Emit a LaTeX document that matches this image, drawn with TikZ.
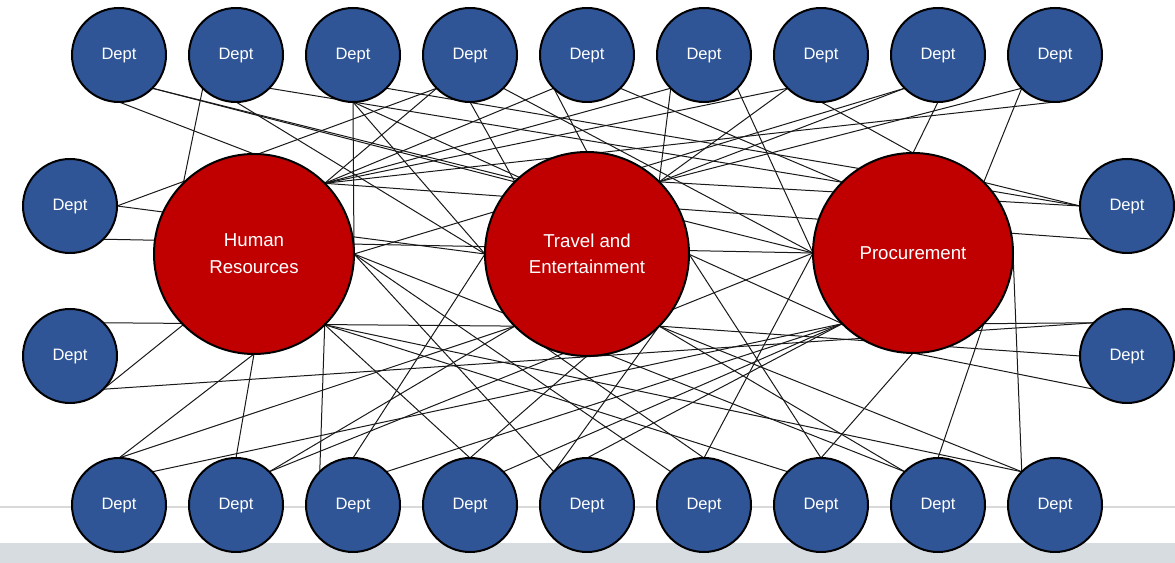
\documentclass[tikz,border=0pt]{standalone}
\usepackage{fontspec}
\setmainfont{Liberation Sans}
\usetikzlibrary{positioning,backgrounds}

\definecolor{deptblue}{HTML}{2F5597}
\definecolor{hubred}{HTML}{C00000}
\definecolor{footgray}{HTML}{D6DCE0}
\definecolor{rulegray}{HTML}{D9D9D9}

\tikzset{
  dept/.style={circle, draw=black, line width=1.5pt, fill=deptblue, text=white,
    minimum size=70.5pt, inner sep=0pt, outer sep=0pt,
    text height=0.72em, text depth=0pt,
    font=\fontsize{12.4}{14}\selectfont},
  hub/.style={circle, draw=black, line width=1.5pt, fill=hubred, text=white,
    minimum size=150pt, inner sep=0pt, outer sep=0pt, align=center,
    font=\fontsize{14}{20}\selectfont},
  link/.style={draw=black!90, line width=0.75pt}
}

\begin{document}
\begin{tikzpicture}[x=0.75pt,y=0.75pt]
\useasboundingbox (0,0) rectangle (1175,563);

% footer
\fill[footgray] (0,0) rectangle (1175,20);
\draw[rulegray, line width=1.5pt] (0,56) -- (1175,56);

% top row
\node[dept] (T1) at (119,508) {Dept};
\node[dept] (T2) [right=17.25pt of T1] {Dept};
\node[dept] (T3) [right=17.25pt of T2] {Dept};
\node[dept] (T4) [right=17.25pt of T3] {Dept};
\node[dept] (T5) [right=17.25pt of T4] {Dept};
\node[dept] (T6) [right=17.25pt of T5] {Dept};
\node[dept] (T7) [right=17.25pt of T6] {Dept};
\node[dept] (T8) [right=17.25pt of T7] {Dept};
\node[dept] (T9) [right=17.25pt of T8] {Dept};

% bottom row
\node[dept] (B1) at (119,58) {Dept};
\node[dept] (B2) [right=17.25pt of B1] {Dept};
\node[dept] (B3) [right=17.25pt of B2] {Dept};
\node[dept] (B4) [right=17.25pt of B3] {Dept};
\node[dept] (B5) [right=17.25pt of B4] {Dept};
\node[dept] (B6) [right=17.25pt of B5] {Dept};
\node[dept] (B7) [right=17.25pt of B6] {Dept};
\node[dept] (B8) [right=17.25pt of B7] {Dept};
\node[dept] (B9) [right=17.25pt of B8] {Dept};

% sides
\node[dept] (L1) at (70,357) {Dept};
\node[dept] (L2) [below=42pt of L1] {Dept};
\node[dept] (R1) at (1127,357) {Dept};
\node[dept] (R2) [below=42pt of R1] {Dept};

% hubs
\node[hub] (HR) at (254,309) {Human\\Resources};
\node[hub, minimum size=153pt] (TE) at (587,309) {Travel and\\Entertainment};
\node[hub] (PR) at (913,310) {Procurement};

\begin{scope}[on background layer]
% top row links
\draw[link] (T1.south) -- (HR.north);
\draw[link] (T1.south east) -- (TE.north west);
\draw[link] (T1.south east) -- (PR.west);
\draw[link] (T2.south west) -- (HR.north west);
\draw[link] (T2.south) -- (TE.west);
\draw[link] (T2.south east) -- (PR.north west);
\draw[link] (T3.south) -- (HR.east);
\draw[link] (T3.south) -- (TE.west);
\draw[link] (T3.south) -- (PR.south west);
\draw[link] (T3.south east) -- (R1.west);
\draw[link] (T4.south) -- (TE.north west);
\draw[link] (T4.south west) -- (HR.north east);
\draw[link] (T4.south east) -- (PR.west);
\draw[link] (T5.south west) -- (TE.north);
\draw[link] (T5.south west) -- (HR.north east);
\draw[link] (T5.south east) -- (PR.north west);
\draw[link] (T6.south west) -- (TE.north east);
\draw[link] (T6.south west) -- (HR.north east);
\draw[link] (T6.south east) -- (PR.west);
\draw[link] (T7.south) -- (PR.north);
\draw[link] (T7.south west) -- (HR.north east);
\draw[link] (T7.south west) -- (TE.north east);
\draw[link] (T8.south) -- (PR.north);
\draw[link] (T8.south west) -- (TE.north east);
\draw[link] (T8.south west) -- (HR.east);
\draw[link] (T9.south west) -- (PR.north east);
\draw[link] (T9.south west) -- (TE.north east);
\draw[link] (T9.south) -- (HR.north east);
% side links
\draw[link] (L1.east) -- (T4.south west);
\draw[link] (L1.east) -- (TE.west);
\draw[link] (L1.south east) -- (PR.west);
\draw[link] (L2.north east) -- (TE.south west);
\draw[link] (L2.south east) -- (HR.south west);
\draw[link] (L2.south east) -- (R2.north west);
\draw[link] (R1.west) -- (PR.north east);
\draw[link] (R1.west) -- (TE.north east);
\draw[link] (R1.south west) -- (HR.north east);
\draw[link] (R2.north west) -- (PR.south east);
\draw[link] (R2.west) -- (TE.south east);
\draw[link] (R2.south west) -- (PR.south);
% bottom row links
\draw[link] (B1.north) -- (HR.south);
\draw[link] (B1.north) -- (TE.south west);
\draw[link] (B1.north east) -- (PR.south west);
\draw[link] (B2.north) -- (HR.south);
\draw[link] (B2.north east) -- (TE.south west);
\draw[link] (B2.north east) -- (PR.west);
\draw[link] (B3.north west) -- (HR.south east);
\draw[link] (B3.north) -- (TE.west);
\draw[link] (B3.north east) -- (PR.south west);
\draw[link] (B4.north) -- (HR.south east);
\draw[link] (B4.north) -- (TE.south);
\draw[link] (B4.north east) -- (PR.south west);
\draw[link] (B5.north west) -- (HR.east);
\draw[link] (B5.north west) -- (TE.south east);
\draw[link] (B5.north) -- (PR.south west);
\draw[link] (B6.north) -- (TE.south west);
\draw[link] (B6.north) -- (PR.west);
\draw[link] (B6.north west) -- (HR.east);
\draw[link] (B7.north) -- (PR.south);
\draw[link] (B7.north) -- (TE.east);
\draw[link] (B7.north west) -- (HR.south east);
\draw[link] (B8.north) -- (PR.south east);
\draw[link] (B8.north west) -- (TE.south east);
\draw[link] (B8.north west) -- (HR.east);
\draw[link] (B9.north west) -- (PR.east);
\draw[link] (B9.north west) -- (TE.south east);
\draw[link] (B9.north west) -- (HR.south east);
\end{scope}

\end{tikzpicture}
\end{document}
